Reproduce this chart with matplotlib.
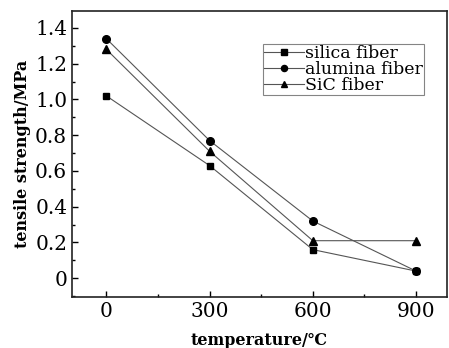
import matplotlib
matplotlib.use('Agg')
import matplotlib.pyplot as plt
from matplotlib.ticker import MultipleLocator

# data
temps = [0, 300, 600, 900]
silica = [1.02, 0.63, 0.16, 0.04]
alumina = [1.34, 0.77, 0.32, 0.04]
sic = [1.28, 0.71, 0.21, 0.21]
yticks = [0, 0.2, 0.4, 0.6, 0.8, 1.0, 1.2, 1.4]
ylabels = ['0', '0.2', '0.4', '0.6', '0.8', '1.0', '1.2', '1.4']

plt.rcParams['font.family'] = ['DejaVu Serif', 'DejaVu Sans']
fig = plt.figure(figsize=(4.49, 3.48), dpi=100)
ax = fig.add_axes([72/449, 1-297/348, 375/449, 286/348])

ax.plot(temps, silica, color='#555555', lw=0.8, marker='s', ms=5, mfc='black', mec='black', label='silica fiber')
ax.plot(temps, alumina, color='#555555', lw=0.8, marker='o', ms=5.5, mfc='black', mec='black', label='alumina fiber')
ax.plot(temps, sic, color='#555555', lw=0.8, marker='^', ms=6, mfc='black', mec='black', label='SiC fiber')

ax.set_xlim(-100, 990)
ax.set_ylim(-0.105, 1.495)
ax.set_xticks(temps)
ax.set_yticks(yticks)
ax.set_yticklabels(ylabels)
ax.xaxis.set_minor_locator(MultipleLocator(150))
ax.yaxis.set_minor_locator(MultipleLocator(0.1))
ax.tick_params(which='both', direction='in', top=False, right=False, labelsize=14.5)
ax.tick_params(which='major', length=4, width=1)
ax.tick_params(which='minor', length=2.5, width=1)
for s in ax.spines.values():
    s.set_linewidth(1.2)
    s.set_color('#222222')

ax.set_xlabel('temperature/℃', fontsize=11.5, fontweight='bold', labelpad=8)
ax.set_ylabel('tensile strength/MPa', fontsize=11.5, fontweight='bold', labelpad=3)

leg = ax.legend(loc='upper left', bbox_to_anchor=(0.51, 0.885), fontsize=12.5, frameon=True,
                fancybox=False, edgecolor='#666666', borderpad=0.05, labelspacing=-0.05,
                handlelength=2.3, handletextpad=0.05, borderaxespad=0, markerscale=0.8)
leg.get_frame().set_linewidth(0.8)

fig.savefig('out.png', dpi=100)
